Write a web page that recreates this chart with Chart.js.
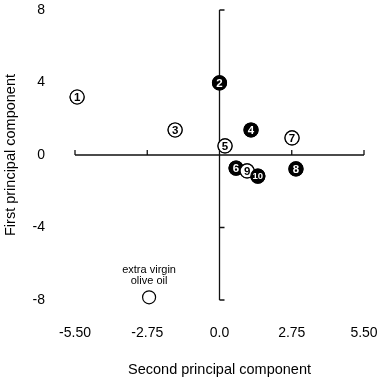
<!DOCTYPE html>
<html><head><meta charset="utf-8">
<script src="https://cdn.jsdelivr.net/npm/chart.js@4.4.1/dist/chart.umd.min.js"></script>
<style>html,body{margin:0;padding:0;background:#fff}#w{width:392px;height:384px}</style>
</head><body><div id="w"><canvas id="c"></canvas></div>
<script>
const sampleLabels = ['1','2','3','4','5','6','7','8','9','10'];
const secondPC = [-5.42, 0.0, -1.69, 1.2, 0.21, 0.63, 2.76, 2.91, 1.05, 1.46];
const firstPC  = [3.2, 3.98, 1.38, 1.38, 0.5, -0.72, 0.94, -0.77, -0.88, -1.16];
const filled   = [false, true, false, true, false, true, false, true, false, true];
const oliveLabel = ['extra virgin', 'olive oil'];
const oliveX = [-2.68];
const oliveY = [-7.85];
const xTicks = [-5.5, -2.75, 0, 2.75, 5.5];
const xTickLabels = ['-5.50', '-2.75', '0.0', '2.75', '5.50'];
const yTicks = [-8, -4, 0, 4, 8];
const yTickLabels = ['-8', '-4', '0', '4', '8'];

const FONT = "'Liberation Sans', Arial, Helvetica, sans-serif";

const axesPlugin = {
  id: 'axesCross',
  beforeDatasetsDraw(chart) {
    const {ctx} = chart;
    const xs = chart.scales.x, ys = chart.scales.y;
    const x0 = xs.getPixelForValue(0), y0 = ys.getPixelForValue(0);
    ctx.save();
    ctx.strokeStyle = '#111';
    ctx.lineWidth = 1.3;
    ctx.beginPath();
    ctx.moveTo(xs.getPixelForValue(xTicks[0]), y0);
    ctx.lineTo(xs.getPixelForValue(xTicks[xTicks.length-1]), y0);
    xTicks.forEach(v => { const p = xs.getPixelForValue(v); ctx.moveTo(p, y0); ctx.lineTo(p, y0 - 5); });
    ctx.moveTo(x0, ys.getPixelForValue(yTicks[yTicks.length-1]));
    ctx.lineTo(x0, ys.getPixelForValue(yTicks[0]));
    yTicks.forEach(v => { const p = ys.getPixelForValue(v); ctx.moveTo(x0, p); ctx.lineTo(x0 + 5, p); });
    ctx.stroke();
    ctx.restore();
  },
  afterDatasetsDraw(chart) {
    const {ctx} = chart;
    const meta = chart.getDatasetMeta(0);
    ctx.save();
    meta.data.forEach((el, i) => {
      el.draw(ctx);
      const lbl = sampleLabels[i];
      ctx.fillStyle = filled[i] ? '#fff' : '#000';
      ctx.font = 'bold ' + (lbl.length > 1 ? 9.5 : 11.5) + 'px ' + FONT;
      ctx.textAlign = 'center';
      ctx.textBaseline = 'middle';
      ctx.fillText(lbl, el.x, el.y + 0.5);
    });
    const m2 = chart.getDatasetMeta(1);
    m2.data.forEach(el => {
      ctx.fillStyle = '#000';
      ctx.font = '11px ' + FONT;
      ctx.textAlign = 'center';
      ctx.textBaseline = 'middle';
      ctx.fillText(oliveLabel[0], el.x, el.y - 27);
      ctx.fillText(oliveLabel[1], el.x, el.y - 16);
    });
    ctx.restore();
  }
};

new Chart(document.getElementById('c'), {
  type: 'scatter',
  plugins: [axesPlugin],
  data: {
    datasets: [{
      data: secondPC.map((x, i) => ({x, y: firstPC[i]})),
      pointRadius: 7,
      pointHoverRadius: 7,
      pointBackgroundColor: filled.map(f => f ? '#000' : '#fff'),
      pointBorderColor: '#000',
      pointBorderWidth: 1.2,
      clip: false
    }, {
      data: oliveX.map((x, i) => ({x, y: oliveY[i]})),
      pointRadius: 6.5,
      pointBackgroundColor: '#fff',
      pointBorderColor: '#000',
      pointBorderWidth: 1.2,
      clip: false
    }]
  },
  options: {
    responsive: true,
    maintainAspectRatio: false,
    animation: false,
    events: [],
    layout: {padding: {left: 0, right: 28, top: 10, bottom: 0}},
    plugins: {legend: {display: false}, tooltip: {enabled: false}},
    scales: {
      x: {
        type: 'linear', min: -5.5, max: 5.5,
        afterBuildTicks: s => { s.ticks = xTicks.map(v => ({value: v})); },
        afterFit: s => { s.height = 84; s.paddingLeft = 0; s.paddingRight = 0; },
        grid: {display: false, drawTicks: false}, border: {display: false},
        ticks: {
          padding: 25, color: '#000', font: {family: FONT, size: 14}, maxRotation: 0,
          callback: (v) => xTickLabels[xTicks.indexOf(v)]
        },
        title: {display: true, text: 'Second principal component', color: '#000',
          font: {family: FONT, size: 14.5}, padding: {top: 0, bottom: 5}}
      },
      y: {
        type: 'linear', min: -8, max: 8,
        afterBuildTicks: s => { s.ticks = yTicks.map(v => ({value: v})); },
        afterFit: s => { s.width = 75; s.paddingTop = 0; s.paddingBottom = 0; },
        grid: {display: false, drawTicks: false}, border: {display: false},
        ticks: {
          padding: 30, color: '#000', font: {family: FONT, size: 14},
          callback: (v) => yTickLabels[yTicks.indexOf(v)]
        },
        title: {display: true, text: 'First principal component', color: '#000',
          font: {family: FONT, size: 14.5}, padding: {top: 2, bottom: 0}}
      }
    }
  }
});
</script>
</body></html>
